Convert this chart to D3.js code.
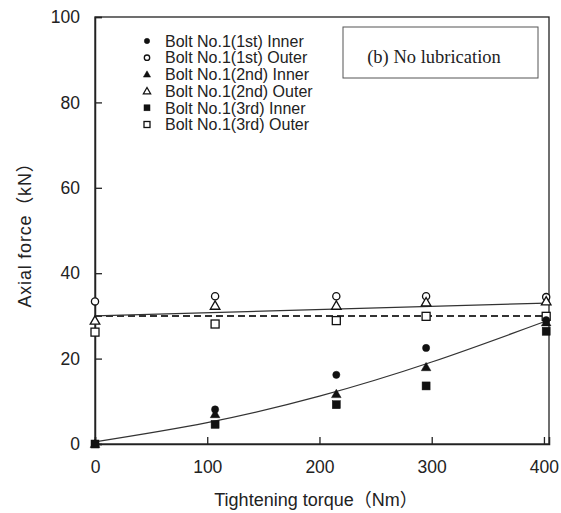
<!DOCTYPE html>
<html>
<head>
<meta charset="utf-8">
<script src="https://cdn.jsdelivr.net/npm/d3@7"></script>
<style>
  body { margin: 0; background: #fff; }
  svg { display: block; }
  .tick text { font-family: "Liberation Sans", Arial, sans-serif; font-size: 17.5px; fill: #222; }
</style>
</head>
<body>
<div class="chart"></div>
<script>
// values
var torque = [0, 107, 215, 295, 402];
var s1Inner = [0, 8.1, 16.2, 22.5, 29.0];
var s1Outer = [33.4, 34.6, 34.6, 34.6, 34.4];
var s2Inner = [0, 7.0, 11.7, 18.0, 28.5];
var s2Outer = [28.9, 32.4, 32.4, 33.2, 33.4];
var s3Inner = [0, 4.6, 9.2, 13.6, 26.4];
var s3Outer = [26.2, 28.1, 28.9, 29.9, 29.9];

// trend lines as drawn
var innerFitX = [0, 100, 200, 300, 402];
var innerFitY = [0.5, 5.0, 11.2, 19.2, 28.8];
var outerFitX = [0, 402];
var outerFitY = [30.0, 33.0];
var dashFitX = [0, 402];
var dashFitY = [30.0, 30.0];

var xTicks = [0, 100, 200, 300, 400];
var yTicks = [0, 20, 40, 60, 80, 100];

var seriesNames = ["Bolt No.1(1st) Inner", "Bolt No.1(1st) Outer", "Bolt No.1(2nd) Inner",
                   "Bolt No.1(2nd) Outer", "Bolt No.1(3rd) Inner", "Bolt No.1(3rd) Outer"];
var seriesValues = [s1Inner, s1Outer, s2Inner, s2Outer, s3Inner, s3Outer];
var shapes = ["circle", "circle", "triangle", "triangle", "square", "square"];
var filled = [true, false, true, false, true, false];

var W = 561, H = 513;
var margin = {top: 17, right: 12, bottom: 69, left: 95};
var width = W - margin.left - margin.right,
    height = H - margin.top - margin.bottom;

var xScale = d3.scaleLinear().domain([0, 404.5]).range([0, width]);
var yScale = d3.scaleLinear().domain([0, 100]).range([height, 0]);

var svg = d3.select(".chart").append("svg")
    .attr("width", W).attr("height", H)
  .append("g")
    .attr("transform", "translate(" + margin.left + "," + margin.top + ")");

// frame
svg.append("rect")
    .attr("width", width).attr("height", height)
    .style("fill", "none").style("stroke", "#222").style("stroke-width", 1.3);

// axes, ticks pointing inwards
var xAxis = svg.append("g")
    .attr("transform", "translate(0," + height + ")")
    .call(d3.axisBottom(xScale).tickValues(xTicks).tickSize(-7).tickPadding(14));
var yAxis = svg.append("g")
    .call(d3.axisLeft(yScale).tickValues(yTicks).tickSize(-7).tickPadding(15));
[xAxis, yAxis].forEach(function(a) {
  a.select(".domain").style("stroke", "#222").style("stroke-width", 1.5);
  a.selectAll(".tick line").style("stroke", "#222").style("stroke-width", 1.3);
});
xAxis.selectAll(".tick text").attr("dy", "0.85em");

// axis titles (full-width brackets as in the original)
var titleFont = "'Liberation Sans', Arial, 'Noto Sans CJK JP', sans-serif";
svg.append("text")
    .attr("transform", "translate(" + (-70) + "," + (height / 2) + ") rotate(-90)")
    .attr("text-anchor", "middle")
    .attr("dy", "0.35em")
    .style("font-family", titleFont)
    .style("font-size", "18px").style("letter-spacing", "0.8px").style("fill", "#222")
    .text("Axial force（kN）");

svg.append("text")
    .attr("x", 221).attr("y", height + 56)
    .attr("text-anchor", "middle")
    .attr("dy", "0.35em")
    .style("font-family", titleFont)
    .style("font-size", "18px").style("fill", "#222")
    .text("Tightening torque（Nm）");

// trend lines
var line = d3.line()
    .x(function(d) { return xScale(d[0]); })
    .y(function(d) { return yScale(d[1]); });

svg.append("path")
    .datum(d3.zip(innerFitX, innerFitY))
    .attr("d", line.curve(d3.curveNatural))
    .style("fill", "none").style("stroke", "#333").style("stroke-width", 1.2);

svg.append("path")
    .datum(d3.zip(outerFitX, outerFitY))
    .attr("d", line.curve(d3.curveLinear))
    .style("fill", "none").style("stroke", "#333").style("stroke-width", 1.3);

svg.append("path")
    .datum(d3.zip(dashFitX, dashFitY))
    .attr("d", line.curve(d3.curveLinear))
    .style("fill", "none").style("stroke", "#333").style("stroke-width", 2)
    .style("stroke-dasharray", "7 4");

// markers
function drawMarker(g, shape, fill, cx, cy, k) {
  var m;
  if (shape == "circle") {
    m = g.append("circle").attr("cx", cx).attr("cy", cy).attr("r", 3.6 * k);
  } else if (shape == "square") {
    m = g.append("rect").attr("x", cx - 4 * k).attr("y", cy - 4 * k)
      .attr("width", 8 * k).attr("height", 8 * k);
  } else {
    m = g.append("path")
      .attr("d", d3.symbol().type(d3.symbolTriangle).size(40 * k * k)())
      .attr("transform", "translate(" + cx + "," + (cy + 0.8 * k) + ")");
  }
  m.style("fill", fill ? "#111" : "#fff")
   .style("stroke", "#111")
   .style("stroke-width", fill ? 0.5 : 1.3);
}

var pts = svg.append("g");
// outer (open) drawn first, inner (filled) on top
[1, 3, 5, 0, 2, 4].forEach(function(i) {
  seriesValues[i].forEach(function(v, j) {
    drawMarker(pts, shapes[i], filled[i], xScale(torque[j]), yScale(v), 1);
  });
});

// legend
var legend = svg.append("g").attr("transform", "translate(52,24)");
seriesNames.forEach(function(name, i) {
  var row = legend.append("g").attr("transform", "translate(0," + (i * 16.7) + ")");
  drawMarker(row, shapes[i], filled[i], 0, 0, 0.75);
  row.append("text")
    .attr("x", 18).attr("dy", "0.36em")
    .style("font-family", "'Liberation Sans', Arial, sans-serif")
    .style("font-size", "16px").style("fill", "#222")
    .text(name);
});

// annotation box
svg.append("rect")
    .attr("x", 248).attr("y", 10).attr("width", 195).attr("height", 51)
    .style("fill", "#fff").style("stroke", "#555").style("stroke-width", 1);
svg.append("text")
    .attr("x", 339).attr("y", 45.5)
    .attr("text-anchor", "middle")
    .style("font-family", "'Liberation Serif', 'Times New Roman', serif")
    .style("font-size", "18.5px").style("fill", "#222")
    .text("(b) No lubrication");
</script>
</body>
</html>
